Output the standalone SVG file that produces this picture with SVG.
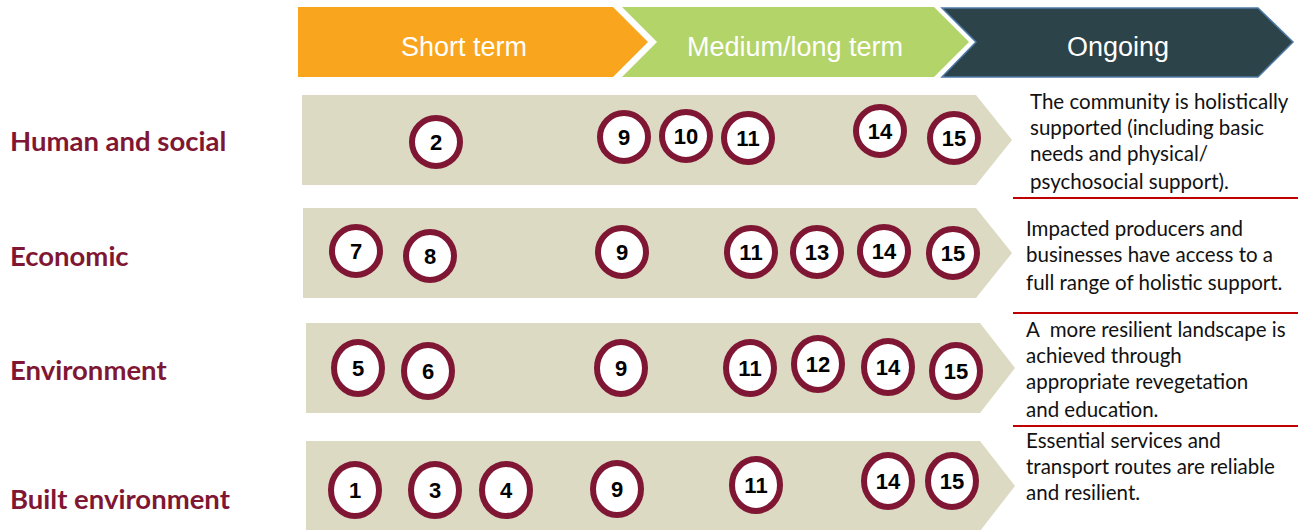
<svg xmlns="http://www.w3.org/2000/svg" width="1298" height="530" viewBox="0 0 1298 530">
<style>
.hdr{font-family:"Liberation Sans",Arial,sans-serif;font-size:27px;fill:#ffffff;text-anchor:middle}
.band{fill:#dcdac2}
.c{fill:#ffffff;stroke:#7f1734;stroke-width:6}
.n{font-family:"Liberation Sans",Arial,sans-serif;font-size:22px;font-weight:bold;fill:#000;text-anchor:middle}
.lbl{font-family:Lato,"Open Sans",sans-serif;font-size:27.5px;font-weight:bold;fill:#7f1734}
.out{font-family:Lato,"Open Sans",sans-serif;font-size:20.5px;fill:#111;white-space:pre}
.rule{stroke:#c00000;stroke-width:2}
</style>
<g id="header">
<g id="short-term"><polygon points="298,7 613,7 648,42 613,77 298,77" fill="#f9a61e"/><text class="hdr" x="464" y="56">Short term</text></g>
<g id="medium-long-term"><polygon points="622,7 934,7 969,42 934,77 622,77 657,42" fill="#b3d468"/><text class="hdr" x="795" y="56">Medium/long term</text></g>
<g id="ongoing"><polygon points="942,8 1258,8 1293,42 1258,77 942,77 976,42" fill="#2c4349" stroke="#4f7aa6" stroke-width="1.5"/><text class="hdr" x="1118" y="56">Ongoing</text></g>
</g>
<g id="row-human">
<polygon class="band" points="302,95 976,95 1012,140 976,185 302,185"/>
<text class="lbl" x="10" y="151">Human and social</text>
<g id="h2"><circle class="c" cx="436" cy="142" r="24"/><text class="n" x="436" y="150">2</text></g>
<g id="h9"><circle class="c" cx="624" cy="137" r="24"/><text class="n" x="624" y="145">9</text></g>
<g id="h10"><circle class="c" cx="686" cy="136" r="24"/><text class="n" x="686" y="144">10</text></g>
<g id="h11"><circle class="c" cx="748" cy="138" r="24"/><text class="n" x="748" y="146">11</text></g>
<g id="h14"><circle class="c" cx="880" cy="131" r="24"/><text class="n" x="880" y="139">14</text></g>
<g id="h15"><circle class="c" cx="954" cy="138" r="24"/><text class="n" x="954" y="146">15</text></g>
<text class="out"><tspan x="1030" y="109">The community is holistically</tspan><tspan x="1030" y="135">supported (including basic</tspan><tspan x="1030" y="161">needs and physical/</tspan><tspan x="1030" y="189">psychosocial support).</tspan></text>
</g>
<g id="row-economic">
<polygon class="band" points="303,208 976,208 1012,253 976,298 303,298"/>
<text class="lbl" x="10" y="266">Economic</text>
<g id="e7"><circle class="c" cx="356" cy="251" r="24"/><text class="n" x="356" y="259">7</text></g>
<g id="e8"><circle class="c" cx="430" cy="256" r="24"/><text class="n" x="430" y="264">8</text></g>
<g id="e9"><circle class="c" cx="622" cy="252" r="24"/><text class="n" x="622" y="260">9</text></g>
<g id="e11"><circle class="c" cx="751" cy="252" r="24"/><text class="n" x="751" y="260">11</text></g>
<g id="e13"><circle class="c" cx="817" cy="252" r="24"/><text class="n" x="817" y="260">13</text></g>
<g id="e14"><circle class="c" cx="884" cy="251" r="24"/><text class="n" x="884" y="259">14</text></g>
<g id="e15"><circle class="c" cx="953" cy="253" r="24"/><text class="n" x="953" y="261">15</text></g>
<text class="out"><tspan x="1026" y="236">Impacted producers and</tspan><tspan x="1026" y="262">businesses have access to a</tspan><tspan x="1026" y="290">full range of holistic support.</tspan></text>
</g>
<g id="row-environment">
<polygon class="band" points="306,323 980,323 1015,368 980,413 306,413"/>
<text class="lbl" x="10" y="380">Environment</text>
<g id="v5"><ellipse class="c" cx="358" cy="368" rx="24" ry="26"/><text class="n" x="358" y="376">5</text></g>
<g id="v6"><ellipse class="c" cx="428" cy="371" rx="24" ry="26"/><text class="n" x="428" y="379">6</text></g>
<g id="v9"><ellipse class="c" cx="621" cy="368" rx="24" ry="26"/><text class="n" x="621" y="376">9</text></g>
<g id="v11"><ellipse class="c" cx="750" cy="368" rx="24" ry="26"/><text class="n" x="750" y="376">11</text></g>
<g id="v12"><ellipse class="c" cx="818" cy="364" rx="24" ry="26"/><text class="n" x="818" y="372">12</text></g>
<g id="v14"><ellipse class="c" cx="888" cy="367" rx="24" ry="26"/><text class="n" x="888" y="375">14</text></g>
<g id="v15"><ellipse class="c" cx="956" cy="371" rx="24" ry="26"/><text class="n" x="956" y="379">15</text></g>
<text class="out"><tspan x="1026" y="337">A  more resilient landscape is</tspan><tspan x="1026" y="363">achieved through</tspan><tspan x="1026" y="389">appropriate revegetation</tspan><tspan x="1026" y="417">and education.</tspan></text>
</g>
<g id="row-built">
<polygon class="band" points="306,441 980,441 1015,486 980,531 306,531"/>
<text class="lbl" x="10" y="509">Built environment</text>
<g id="b1"><ellipse class="c" cx="355" cy="490" rx="24" ry="26"/><text class="n" x="355" y="498">1</text></g>
<g id="b3"><ellipse class="c" cx="435" cy="490" rx="24" ry="26"/><text class="n" x="435" y="498">3</text></g>
<g id="b4"><ellipse class="c" cx="506" cy="490" rx="24" ry="26"/><text class="n" x="506" y="498">4</text></g>
<g id="b9"><ellipse class="c" cx="617" cy="489" rx="24" ry="26"/><text class="n" x="617" y="497">9</text></g>
<g id="b11"><ellipse class="c" cx="756" cy="485" rx="24" ry="26"/><text class="n" x="756" y="493">11</text></g>
<g id="b14"><ellipse class="c" cx="888" cy="481" rx="24" ry="26"/><text class="n" x="888" y="489">14</text></g>
<g id="b15"><ellipse class="c" cx="952" cy="481" rx="24" ry="26"/><text class="n" x="952" y="489">15</text></g>
<text class="out"><tspan x="1026" y="448">Essential services and</tspan><tspan x="1026" y="474">transport routes are reliable</tspan><tspan x="1026" y="500">and resilient.</tspan></text>
</g>
<g id="connectors">
<line class="rule" x1="1013" y1="198" x2="1298" y2="198"/>
<line class="rule" x1="1013" y1="313" x2="1298" y2="313"/>
<line class="rule" x1="1013" y1="426" x2="1298" y2="426"/>
</g>
</svg>
